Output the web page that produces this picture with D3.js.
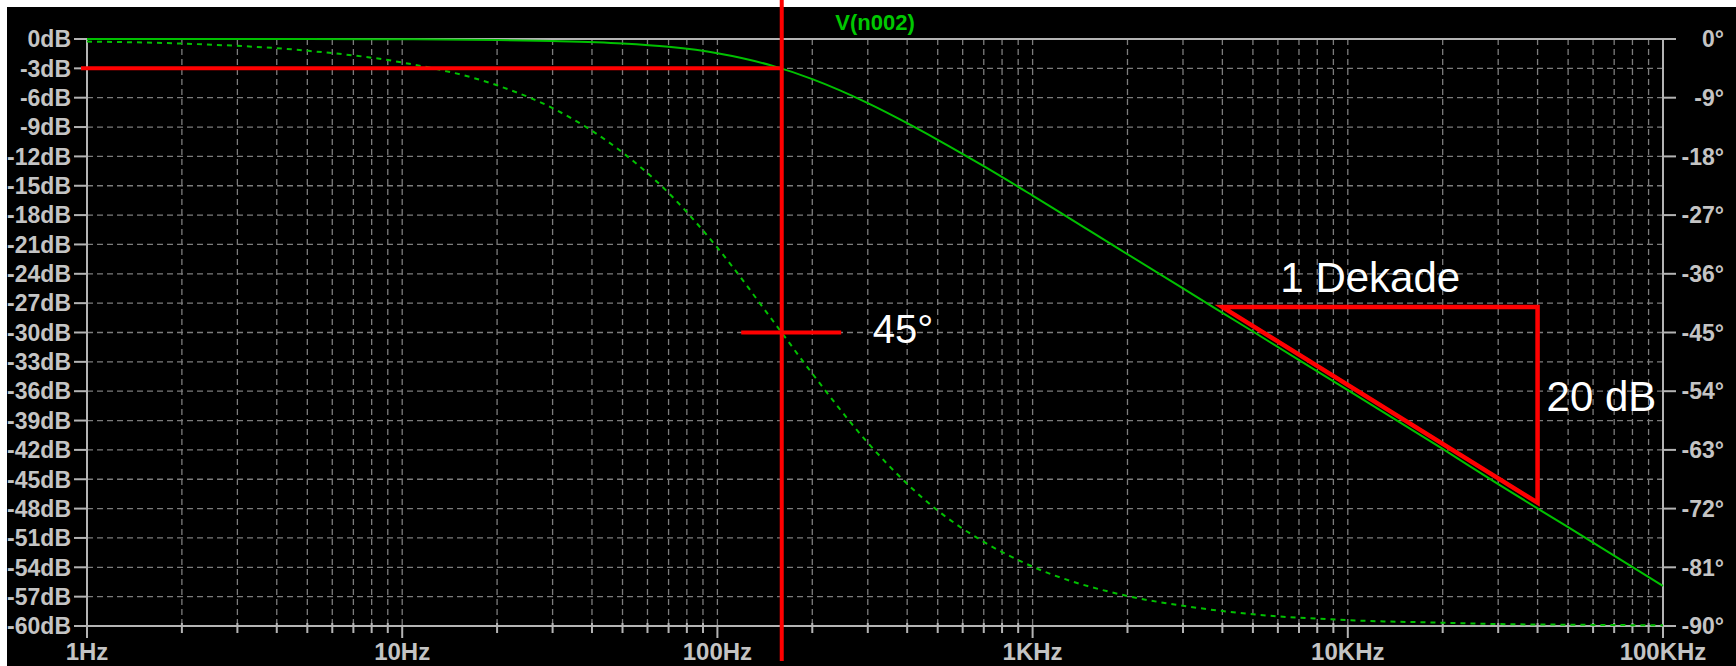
<!DOCTYPE html>
<html>
<head>
<meta charset="utf-8">
<script src="https://cdn.jsdelivr.net/npm/d3@7"></script>
<style>
  html, body { margin: 0; padding: 0; background: #fff; }
  svg { display: block; }
  .lbl { font-family: "Liberation Sans", Arial, sans-serif; font-weight: bold; fill: #c4c4c4; }
  .note { font-family: "Liberation Sans", Arial, sans-serif; fill: #fff; }
</style>
</head>
<body>
<svg id="chart" width="1736" height="666"></svg>
<script>
// Bode plot of an RC low pass
const freqs = [1, 2, 5, 10, 20, 30, 50, 70, 100, 150, 200, 300, 400, 500, 700, 1000, 2000, 3000, 5000, 10000, 20000, 30000, 50000, 100000];
const magDb = [0, 0, 0, -0.03, -0.1, -0.2, -0.45, -0.8, -1.45, -2.75, -4.1, -6.55, -8.6, -10.3, -13.0, -16.0, -22.0, -25.5, -29.9, -35.9, -41.9, -45.5, -49.9, -55.9];
const phaseDeg = [-0.4, -0.7, -1.8, -3.6, -7.1, -10.6, -17.4, -23.6, -32.0, -43.2, -51.3, -61.9, -68.2, -72.3, -77.1, -80.9, -85.4, -86.9, -88.2, -89.1, -89.5, -89.7, -89.8, -89.9];

const decades = [1, 10, 100, 1000, 10000, 100000];
const decadeLabels = ["1Hz", "10Hz", "100Hz", "1KHz", "10KHz", "100KHz"];
const dbTicks = d3.range(0, -61, -3);
const phaseTicks = d3.range(0, -91, -9);
const traceName = "V(n002)";

// annotations
const cursorFreq = 160;          // -3 dB / -45 deg point
const phaseMarkFreqs = [119, 247];
const slopeFreqs = [4000, 40000];
const slopeDb = [-27.4, -47.4];

const svg = d3.select("#chart");
const plotL = 87, plotR = 1663, plotT = 39, plotB = 626;

const x = d3.scaleLog().domain([1, 100000]).range([plotL, plotR]);
const yDb = d3.scaleLinear().domain([0, -60]).range([plotT, plotB]);
const yPh = d3.scaleLinear().domain([0, -90]).range([plotT, plotB]);

const minor = [];
decades.slice(0, -1).forEach(d => { for (let k = 2; k <= 9; k++) minor.push(d * k); });

svg.append("rect").attr("x", 7).attr("y", 7).attr("width", 1729).attr("height", 659).attr("fill", "#000");

// grid
const grid = svg.append("g").attr("stroke", "#7c7c7c").attr("stroke-width", 1.3).attr("stroke-dasharray", "6,4");
grid.selectAll("line.h")
  .data(dbTicks.filter(d => d !== 0 && d !== -60))
  .join("line")
  .attr("x1", plotL).attr("x2", plotR)
  .attr("y1", d => yDb(d)).attr("y2", d => yDb(d));
grid.selectAll("line.v")
  .data(minor.concat(decades.slice(1, -1)))
  .join("line")
  .attr("x1", d => x(d)).attr("x2", d => x(d))
  .attr("y1", plotT).attr("y2", plotB);

// axes
const axisColor = "#b4b4b4";
const axes = svg.append("g").attr("stroke", axisColor).attr("stroke-width", 2);
axes.append("line").attr("x1", plotL).attr("x2", plotR).attr("y1", plotT).attr("y2", plotT);
axes.append("line").attr("x1", plotL).attr("x2", plotR).attr("y1", plotB).attr("y2", plotB);
axes.append("line").attr("x1", plotL).attr("x2", plotL).attr("y1", plotT).attr("y2", plotB + 12);
axes.append("line").attr("x1", plotR).attr("x2", plotR).attr("y1", plotT).attr("y2", plotB + 12);

axes.selectAll("line.ly").data(dbTicks).join("line")
  .attr("x1", plotL - 13).attr("x2", plotL).attr("y1", d => yDb(d)).attr("y2", d => yDb(d));
axes.selectAll("line.ry").data(phaseTicks).join("line")
  .attr("x1", plotR).attr("x2", plotR + 13).attr("y1", d => yPh(d)).attr("y2", d => yPh(d));
axes.selectAll("line.mx").data(minor).join("line")
  .attr("x1", d => x(d)).attr("x2", d => x(d)).attr("y1", plotB - 3).attr("y2", plotB + 7);
axes.selectAll("line.dx").data(decades).join("line")
  .attr("x1", d => x(d)).attr("x2", d => x(d)).attr("y1", plotB).attr("y2", plotB + 12);

svg.append("g").selectAll("text").data(dbTicks).join("text")
  .attr("class", "lbl").attr("font-size", 23)
  .attr("x", 71).attr("y", d => yDb(d)).attr("dy", "0.36em")
  .attr("text-anchor", "end")
  .text(d => d + "dB");

svg.append("g").selectAll("text").data(phaseTicks).join("text")
  .attr("class", "lbl").attr("font-size", 23)
  .attr("x", 1724).attr("y", d => yPh(d)).attr("dy", "0.36em")
  .attr("text-anchor", "end")
  .text(d => d + "°");

svg.append("g").selectAll("text").data(decades).join("text")
  .attr("class", "lbl").attr("font-size", 24)
  .attr("x", d => x(d)).attr("y", 660)
  .attr("text-anchor", "middle")
  .text((d, i) => decadeLabels[i]);

svg.append("text")
  .attr("class", "lbl").attr("font-size", 22)
  .attr("x", (plotL + plotR) / 2).attr("y", 30)
  .attr("text-anchor", "middle").style("fill", "#00c800")
  .text(traceName);

// traces
const green = "#00c000";
const pts = freqs.map((f, i) => ({ f, m: magDb[i], p: phaseDeg[i] }));
svg.append("path")
  .attr("fill", "none").attr("stroke", green).attr("stroke-width", 2)
  .attr("d", d3.line().x(d => x(d.f)).y(d => yDb(d.m)).curve(d3.curveMonotoneX)(pts));
svg.append("path")
  .attr("fill", "none").attr("stroke", green).attr("stroke-width", 2).attr("stroke-dasharray", "5,5")
  .attr("d", d3.line().x(d => x(d.f)).y(d => yPh(d.p)).curve(d3.curveMonotoneX)(pts));

// red annotations
const red = svg.append("g").attr("stroke", "#ff0000").attr("stroke-width", 4).attr("fill", "none");
const cx = x(cursorFreq);
red.append("line").attr("x1", plotL - 6).attr("x2", cx).attr("y1", yDb(-3)).attr("y2", yDb(-3));
red.append("line").attr("x1", cx).attr("x2", cx).attr("y1", 0).attr("y2", 661);
red.append("line").attr("x1", x(phaseMarkFreqs[0])).attr("x2", x(phaseMarkFreqs[1])).attr("y1", yPh(-45)).attr("y2", yPh(-45));
red.append("path")
  .attr("stroke-width", 4.5).attr("stroke-linejoin", "miter")
  .attr("d", `M${x(slopeFreqs[0])},${yDb(slopeDb[0])} L${x(slopeFreqs[1])},${yDb(slopeDb[0])} L${x(slopeFreqs[1])},${yDb(slopeDb[1])} Z`);

svg.append("text").attr("class", "note").attr("font-size", 40)
  .attr("x", cx + 91).attr("y", yPh(-45) + 10).text("45°");
svg.append("text").attr("class", "note").attr("font-size", 42)
  .attr("x", x(slopeFreqs[0]) + 58).attr("y", yDb(slopeDb[0]) - 15).text("1 Dekade");
svg.append("text").attr("class", "note").attr("font-size", 42)
  .attr("x", x(slopeFreqs[1]) + 9).attr("y", yDb(-36) + 20).text("20 dB");
</script>
</body>
</html>
